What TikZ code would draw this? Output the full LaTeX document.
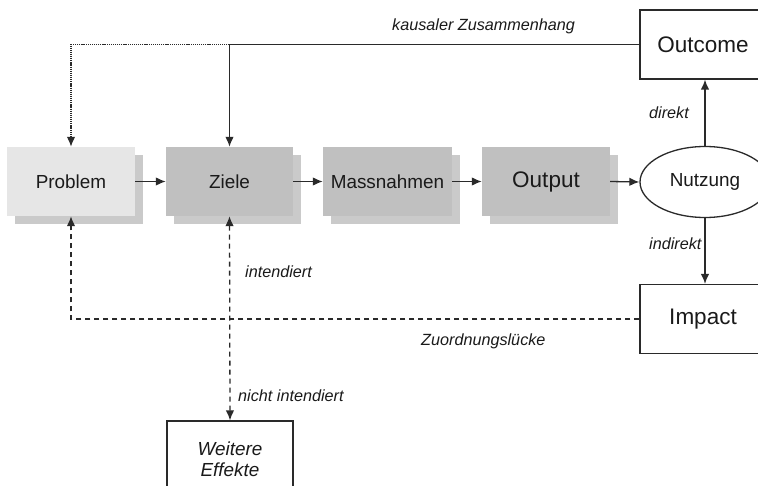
\documentclass[tikz,border=0pt]{standalone}
\usepackage{fontspec}
\setmainfont{Liberation Sans}
\usetikzlibrary{arrows.meta,shapes.geometric}
\definecolor{txt}{HTML}{1A1A1A}
\definecolor{lightbox}{HTML}{E6E6E6}
\definecolor{darkbox}{HTML}{C0C0C0}
\definecolor{shadowgray}{HTML}{CACACA}
\definecolor{linegray}{HTML}{2A2A2A}
\tikzset{
  midfont/.style={font=\fontsize{18.9}{22}\selectfont, text=txt},
  bigfont/.style={font=\fontsize{22.5}{26}\selectfont, text=txt},
  lbl/.style={font=\fontsize{16.2}{19}\selectfont\itshape, text=txt, inner sep=0pt},
  procbox/.style={midfont, inner sep=0pt, minimum height=69pt},
  whitebox/.style={draw=linegray, line width=1.3pt, fill=white, inner sep=0pt, minimum width=126pt, minimum height=69pt},
  tip/.style={},
  conn/.style={draw=linegray, line width=1.3pt, -{Latex[length=10pt,width=8.5pt]}},
  dotconn/.style={conn, dash pattern=on 1.2pt off 0.9pt},
  dashconn/.style={conn, dash pattern=on 5pt off 4pt},
}
\begin{document}
\begin{tikzpicture}[x=1pt,y=-1pt]
\useasboundingbox (0,0) rectangle (758,486);
% shadows
\fill[shadowgray] (15,155) rectangle (143,224);
\fill[shadowgray] (174,155) rectangle (301,224);
\fill[shadowgray] (331,155) rectangle (460,224);
\fill[shadowgray] (490,155) rectangle (618,224);
% process boxes
\node[procbox, fill=lightbox, minimum width=128pt] (prob) at (71,181.5) {Problem};
\node[procbox, fill=darkbox, minimum width=127pt] (ziele) at (229.5,181.5) {Ziele};
\node[procbox, fill=darkbox, minimum width=129pt] (mass) at (387.5,181.5) {Massnahmen};
\node[procbox, fill=darkbox, minimum width=128pt, bigfont] (outp) at (546,181.5) {Output};
\node[ellipse, draw=linegray, line width=1.3pt, fill=white, midfont, inner sep=0pt, minimum width=130pt, minimum height=71pt] (nutz) at (705,182) {Nutzung};
\node[whitebox, bigfont] (outc) at (703,44.5) {Outcome};
\node[whitebox, bigfont] (imp) at (703,319) {Impact};
\node[whitebox, minimum height=76pt, align=center, font=\fontsize{18.9}{21}\selectfont\itshape, text=txt] (eff) at (230,459) {Weitere\\Effekte};
% flow arrows
\draw[conn] (prob.east) -- (ziele.west);
\draw[conn] (ziele.east) -- (mass.west);
\draw[conn] (mass.east) -- (outp.west);
\draw[conn] (outp.east) -- (nutz.west);
\draw[conn] (nutz.north) -- (nutz.north |- outc.south);
\draw[conn] (nutz.south) -- (nutz.south |- imp.north);
% causal link
\coordinate (cz) at (ziele.north |- outc.west);
\coordinate (cp) at (prob.north |- outc.west);
\draw[conn] (outc.west) -- (cz) -- (ziele.north);
\draw[dotconn] (cz) -- (cp) -- (prob.north);
% attribution gap
\coordinate (gp) at (prob.south |- imp.west);
\draw[dashconn] (imp.west) -- (gp) -- (prob.south);
% intended / unintended
\draw[dashconn, {Latex[length=10pt,width=8.5pt]}-{Latex[length=10pt,width=8.5pt]}] (ziele.south) -- (eff.north);
% labels
\node[lbl, anchor=west] (lk) at (392,26) {kausaler Zusammenhang};
\node[lbl, anchor=west] (li) at (245,272) {intendiert};
\node[lbl, anchor=west] (lz) at (421,341) {Zuordnungslücke};
\node[lbl, anchor=west] (ln) at (238,396) {nicht intendiert};
\node[lbl, anchor=west] (ld) at (649,113) {direkt};
\node[lbl, anchor=west] (lid) at (649,244) {indirekt};
\end{tikzpicture}
\end{document}
